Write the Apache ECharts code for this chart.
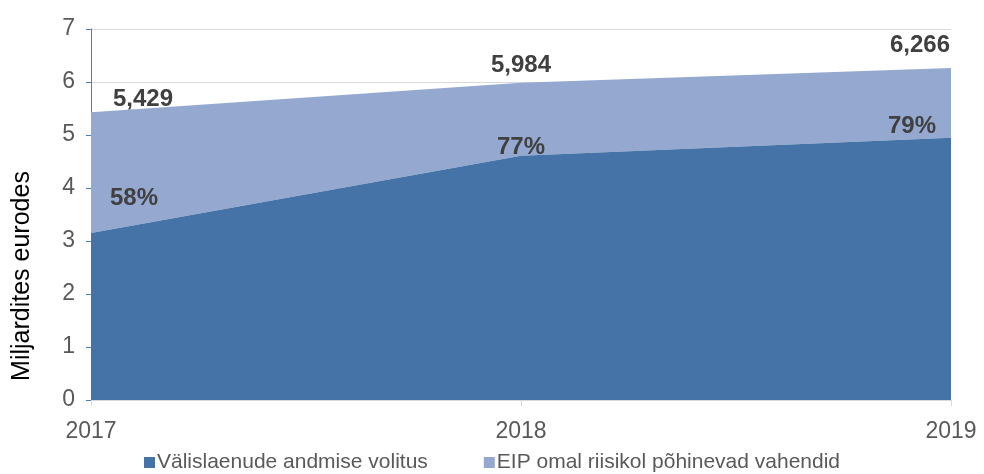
<!DOCTYPE html>
<html>
<head>
<meta charset="utf-8">
<script src="https://cdn.jsdelivr.net/npm/echarts@6/dist/echarts.min.js"></script>
<style>
  html, body { margin: 0; padding: 0; background: #fff; }
  #container { width: 984px; height: 474px; }
</style>
</head>
<body>
<div id="container"></div>
<script>
var years = ['2017', '2018', '2019'];
var mandate = [3.149, 4.608, 4.950];     // Välislaenude andmise volitus
var ownRisk = [2.280, 1.376, 1.316];     // EIP omal riisikol põhinevad vahendid
var seriesNames = ['Välislaenude andmise volitus', 'EIP omal riisikol põhinevad vahendid'];
var yTitle = 'Miljardites eurodes';

// label placement per year (not data)
var totalOffsets = [[52, 4], [0, 0], [-31, -6]];
var pctOffsets = [[43, -18], [0, 9], [-39, 6]];

var dom = document.getElementById('container');
var myChart = echarts.init(dom);

var FONT = 'Liberation Sans, Arial, sans-serif';
var labelFont = {
  fontFamily: FONT,
  fontSize: 24,
  fontWeight: 'bold',
  color: '#404040'
};

var darkData = mandate.map(function (v, i) {
  var total = v + ownRisk[i];
  return {
    value: v,
    label: Object.assign({
      show: true,
      position: 'top',
      offset: pctOffsets[i],
      formatter: Math.round(v / total * 100) + '%'
    }, labelFont)
  };
});
var lightData = ownRisk.map(function (v, i) {
  var total = v + mandate[i];
  return {
    value: v,
    label: Object.assign({
      show: true,
      position: 'top',
      offset: totalOffsets[i],
      formatter: total.toFixed(3).replace('.', ',')
    }, labelFont)
  };
});

var option = {
  animation: false,
  grid: { left: 91, right: 33, top: 29, bottom: 74 },
  graphic: [{
    type: 'text',
    x: 22,
    y: 276,
    rotation: Math.PI / 2,
    style: {
      text: yTitle,
      font: '25px ' + FONT,
      fill: '#000',
      textAlign: 'center',
      textVerticalAlign: 'middle'
    }
  }],
  legend: {
    top: 447,
    left: 'center',
    itemGap: 56,
    itemWidth: 11,
    itemHeight: 11,
    icon: 'rect',
    textStyle: { fontFamily: FONT, fontSize: 21, color: '#595959', padding: [0, 0, 0, -3] },
    data: seriesNames
  },
  xAxis: {
    type: 'category',
    boundaryGap: false,
    data: years,
    axisLine: { lineStyle: { color: '#d9d9d9', width: 1 } },
    axisTick: { show: true, length: 6, lineStyle: { color: '#d9d9d9' } },
    axisLabel: { fontFamily: FONT, fontSize: 23, color: '#595959', margin: 20 }
  },
  yAxis: {
    type: 'value',
    min: 0,
    max: 7,
    interval: 1,
    axisLine: { show: true, lineStyle: { color: '#4a7ebb', width: 1 } },
    axisTick: { show: true, length: 5, lineStyle: { color: '#4a7ebb' } },
    axisLabel: { fontFamily: FONT, fontSize: 23, color: '#595959', margin: 16 },
    splitLine: { lineStyle: { color: '#d9d9d9', width: 1 } }
  },
  series: [
    {
      name: seriesNames[0],
      type: 'line',
      stack: 'total',
      data: darkData,
      symbol: 'circle',
      symbolSize: 0,
      showSymbol: true,
      lineStyle: { width: 0 },
      areaStyle: { color: '#4573a7', opacity: 1 },
      itemStyle: { color: '#4573a7' },
      emphasis: { disabled: true },
      z: 3
    },
    {
      name: seriesNames[1],
      type: 'line',
      stack: 'total',
      data: lightData,
      symbol: 'circle',
      symbolSize: 0,
      showSymbol: true,
      lineStyle: { width: 0 },
      areaStyle: { color: '#95a9d0', opacity: 1 },
      itemStyle: { color: '#95a9d0' },
      emphasis: { disabled: true },
      z: 2
    }
  ]
};

myChart.setOption(option);
</script>
</body>
</html>
